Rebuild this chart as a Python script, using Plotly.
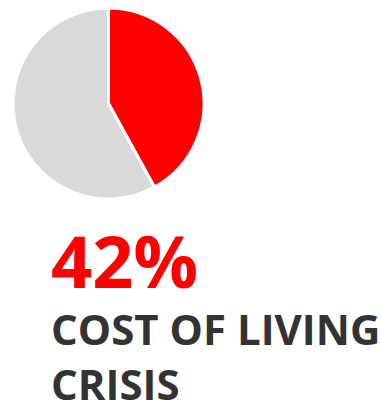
import plotly.graph_objects as go

W, H = 381, 402

labels = ["Cost of living crisis", "Other"]
values = [42, 58]
colors = ["#ff0000", "#d9d9d9"]
headline = f"{values[0]}%"
caption = "COST OF LIVING<br>CRISIS"

fig = go.Figure()
fig.add_trace(go.Pie(
    labels=labels,
    values=values,
    sort=False,
    direction="clockwise",
    rotation=0,
    marker=dict(colors=colors, line=dict(color="white", width=3)),
    textinfo="none",
    hoverinfo="label+percent",
    showlegend=False,
    domain=dict(x=[13 / W, 204 / W], y=[1 - 199 / H, 1 - 8 / H]),
))

fig.add_annotation(
    x=49 / W, y=1 - 209 / H, xref="paper", yref="paper",
    xanchor="left", yanchor="top", showarrow=False,
    text=f"<b>{headline}</b>",
    font=dict(family="Open Sans", size=72, color="#ff0000"),
)
fig.add_annotation(
    x=49 / W, y=1 - 298 / H, xref="paper", yref="paper",
    xanchor="left", yanchor="top", showarrow=False, align="left",
    text=f"<b>{caption}</b>",
    font=dict(family="Open Sans", size=42, color="#333333"),
)

fig.update_layout(
    width=W, height=H,
    margin=dict(l=0, r=0, t=0, b=0),
    paper_bgcolor="white", plot_bgcolor="white",
)

fig.write_html("out.html")
